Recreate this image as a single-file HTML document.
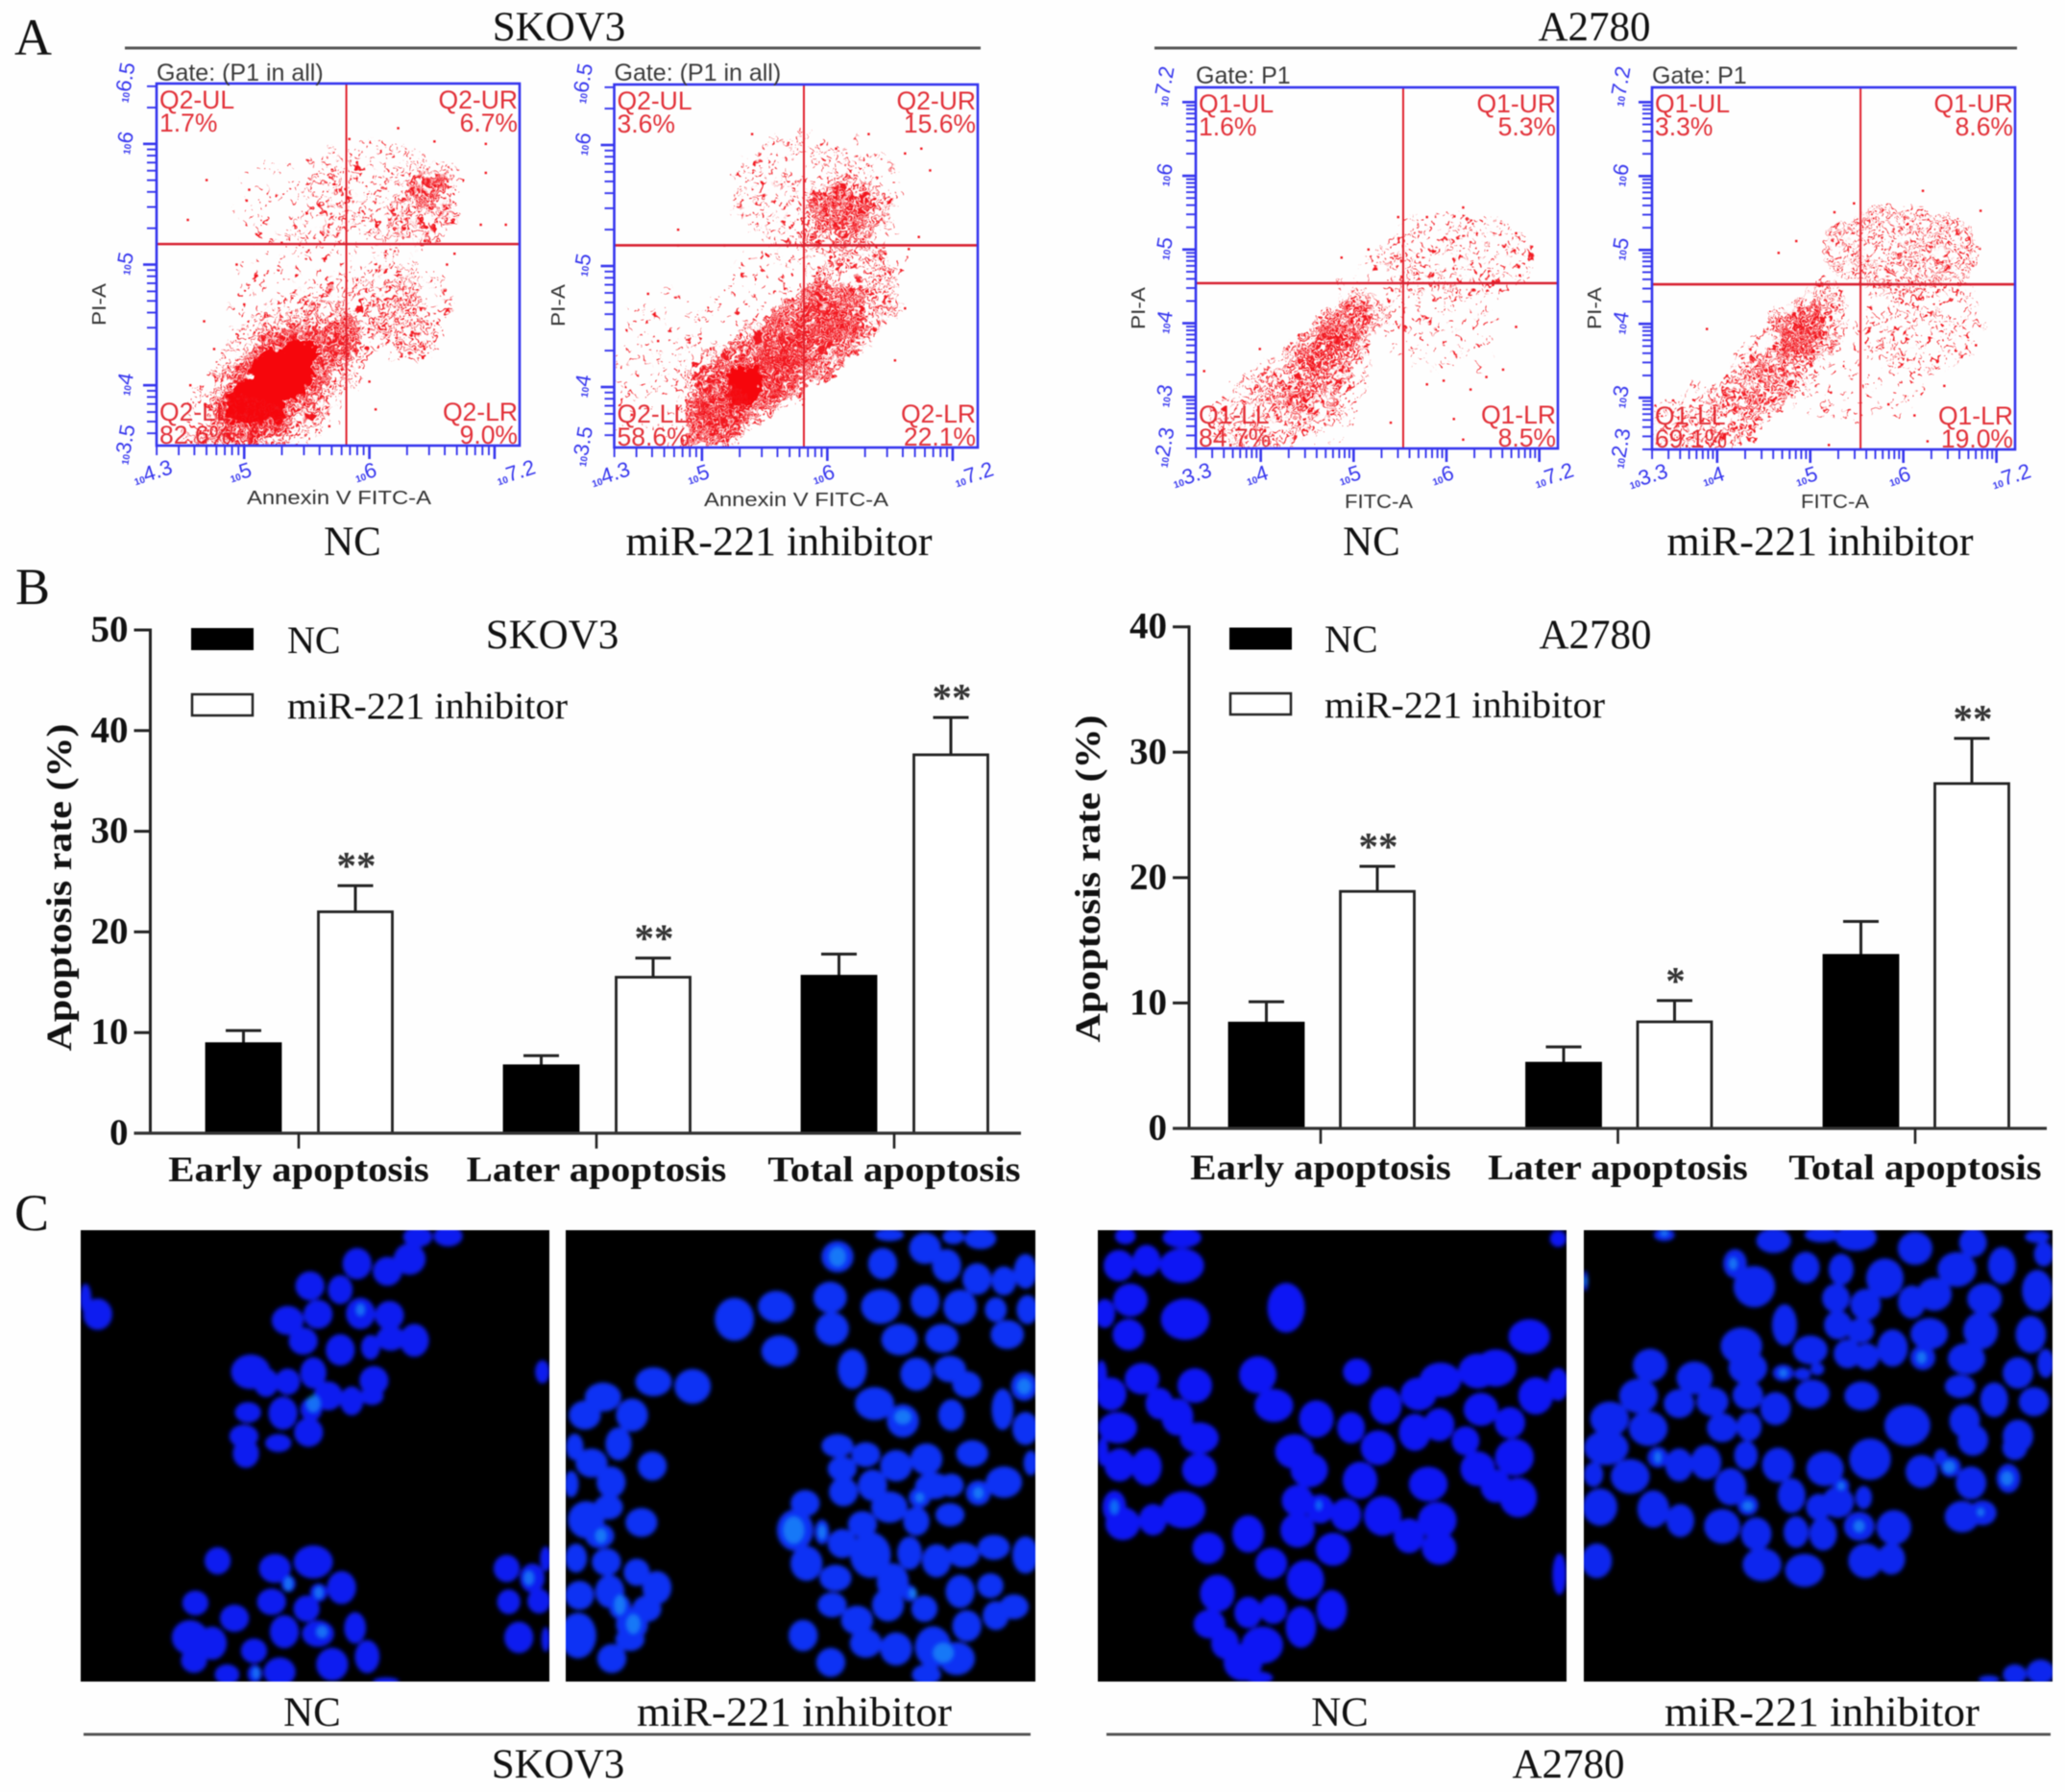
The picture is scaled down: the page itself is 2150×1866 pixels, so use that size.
<!DOCTYPE html>
<html lang="en">
<head>
<meta charset="utf-8">
<title>Apoptosis in SKOV3 and A2780 cells</title>
<style>
html,body{margin:0;padding:0;background:#fefefe;}
svg{display:block;}
text{font-family:"Liberation Serif",serif;fill:#111;}
.sans{font-family:"Liberation Sans",sans-serif;}
.gate{font-size:25px;fill:#3a3a3a;}
.axt{font-size:20px;fill:#333;}
.head{font-size:43px;}
.panel{font-size:54px;}
</style>
</head>
<body>
<svg id="figure" xmlns="http://www.w3.org/2000/svg" width="2150" height="1866" viewBox="0 0 2150 1866">
<defs id="defs">
<filter id="jitter" x="-8%" y="-8%" width="116%" height="116%" color-interpolation-filters="sRGB">
<feTurbulence type="fractalNoise" baseFrequency=".035" numOctaves="2" seed="7" result="slow"/>
<feDisplacementMap in="SourceGraphic" in2="slow" scale="34" xChannelSelector="R" yChannelSelector="G" result="wobbled"/>
<feTurbulence type="fractalNoise" baseFrequency=".2" numOctaves="1" seed="23" result="fast"/>
<feDisplacementMap in="wobbled" in2="fast" scale="16" xChannelSelector="G" yChannelSelector="R"/>
</filter>
</defs>
<rect width="2150" height="1866" fill="#fefefe"/>
<g id="root" style="filter:blur(.55px)">
<text class="panel" x="15" y="57">A</text>
<text class="panel" x="16" y="629">B</text>
<text class="panel" x="15" y="1281">C</text>

<text class="head" x="582" y="42" text-anchor="middle">SKOV3</text>
<line x1="130" x2="1021" y1="50" y2="50" stroke="#555" stroke-width="3"/>
<text class="head" x="1660" y="42" text-anchor="middle">A2780</text>
<line x1="1202" x2="2100" y1="50" y2="50" stroke="#555" stroke-width="3"/>

<g id="flow"></g>

<text class="head" x="367" y="578" text-anchor="middle">NC</text>
<text class="head" x="811" y="578" text-anchor="middle" textLength="319" lengthAdjust="spacingAndGlyphs">miR-221 inhibitor</text>
<text class="head" x="1428" y="578" text-anchor="middle">NC</text>
<text class="head" x="1895" y="578" text-anchor="middle" textLength="319" lengthAdjust="spacingAndGlyphs">miR-221 inhibitor</text>

<g id="bars"></g>

<rect x="199" y="654" width="65" height="23" fill="#000"/>
<rect x="200" y="723" width="63" height="22" fill="#fff" stroke="#222" stroke-width="2.5"/>
<text x="299" y="680" font-size="40">NC</text>
<text x="299" y="748" font-size="39" textLength="292" lengthAdjust="spacingAndGlyphs">miR-221 inhibitor</text>
<text x="575" y="675" font-size="43" text-anchor="middle">SKOV3</text>
<text transform="translate(74,924) rotate(-90)" font-size="37" font-weight="bold" text-anchor="middle" textLength="341" lengthAdjust="spacingAndGlyphs">Apoptosis rate (%)</text>

<rect x="1280" y="653.5" width="65" height="23" fill="#000"/>
<rect x="1281" y="722" width="63" height="22" fill="#fff" stroke="#222" stroke-width="2.5"/>
<text x="1379" y="679" font-size="40">NC</text>
<text x="1379" y="747" font-size="39" textLength="292" lengthAdjust="spacingAndGlyphs">miR-221 inhibitor</text>
<text x="1661" y="675" font-size="43" text-anchor="middle">A2780</text>
<text transform="translate(1145,915) rotate(-90)" font-size="37" font-weight="bold" text-anchor="middle" textLength="341" lengthAdjust="spacingAndGlyphs">Apoptosis rate (%)</text>

<g id="micro"></g>

<text class="head" x="325" y="1797" text-anchor="middle">NC</text>
<text class="head" x="827" y="1797" text-anchor="middle" textLength="328" lengthAdjust="spacingAndGlyphs">miR-221 inhibitor</text>
<line x1="87" x2="1073" y1="1806" y2="1806" stroke="#555" stroke-width="3"/>
<text class="head" x="581" y="1851" text-anchor="middle">SKOV3</text>
<text class="head" x="1395" y="1797" text-anchor="middle">NC</text>
<text class="head" x="1897" y="1797" text-anchor="middle" textLength="328" lengthAdjust="spacingAndGlyphs">miR-221 inhibitor</text>
<line x1="1152" x2="2135" y1="1806" y2="1806" stroke="#555" stroke-width="3"/>
<text class="head" x="1633" y="1851" text-anchor="middle">A2780</text>
</g>
</svg>
<script>
/* ---------- bar chart data ---------- */
const apoptosisCategories = ['Early apoptosis','Later apoptosis','Total apoptosis'];
const skov3NcRates = [8.9, 6.7, 15.6];
const skov3InhibitorRates = [22.0, 15.5, 37.6];
const skov3NcErrorTops = [10.2, 7.7, 17.8];
const skov3InhibitorErrorTops = [24.6, 17.4, 41.3];
const skov3Significance = ['**','**','**'];
const skov3YTicks = [0,10,20,30,40,50];
const a2780NcRates = [8.4, 5.2, 13.8];
const a2780InhibitorRates = [18.9, 8.5, 27.5];
const a2780NcErrorTops = [10.1, 6.5, 16.5];
const a2780InhibitorErrorTops = [20.9, 10.2, 31.1];
const a2780Significance = ['**','*','**'];
const a2780YTicks = [0,10,20,30,40];

/* ---------- flow cytometry data (log10 units) ---------- */
const skov3NcGate = [5.816, 5.17];
const skov3NcRegionX = [5.60,5.41,6.15,6.42,6.45,6.25,6.25,5.30,5.30,5.28,5.26,5.82,4.95];
const skov3NcRegionY = [4.75,5.52,5.60,5.46,5.55,4.66,4.60,4.05,4.05,4.03,4.03,4.45,3.68];
const skov3NcRegionSpreadX = [.85,.50,.60,.28,.14,.40,.22,.98,.80,.62,.50,.12,.40];
const skov3NcRegionSpreadY = [.65,.38,.42,.24,.12,.46,.28,.55,.42,.32,.22,.20,.24];
const skov3NcRegionTilt = [-45,0,0,-30,0,-20,-20,-45,-45,-45,-45,0,-20];
const skov3NcRegionDensity = [0,0,1,2,3,1,2,1,2,3,4,3,2];
const skov3NcOutlierX = [6.23,5.84,6.52,6.93,4.70,4.55,7.09,6.89,6.93,5.04,5.02,4.68,4.76,4.94,5.00,6.68,6.62,6.05,5.68,4.57,6.44,6.00,5.30];
const skov3NcOutlierY = [6.13,6.04,6.02,6.00,5.70,5.37,5.33,5.33,5.76,5.62,5.53,4.53,4.30,5.00,4.67,5.09,5.00,3.80,3.66,4.00,4.30,4.03,5.18];
const skov3NcXTicks = [4.3,5,6,7.2];
const skov3NcYTicks = [3.5,4,5,6,6.5];
const skov3NcPercents = ['1.7%','6.7%','82.6%','9.0%'];

const skov3InhGate = [5.813, 5.171];
const skov3InhRegionX = [5.70,4.70,5.90,6.15,6.10,6.22,5.86,5.33,5.33,5.86,5.30,5.10,6.10];
const skov3InhRegionY = [4.60,4.16,5.60,5.41,5.45,4.81,4.41,4.04,4.04,4.40,4.00,3.75,4.55];
const skov3InhRegionSpreadX = [1.15,.42,.68,.36,.24,.36,.56,.66,.48,.34,.22,.30,.34];
const skov3InhRegionSpreadY = [.62,.65,.48,.32,.20,.42,.36,.36,.30,.20,.12,.22,.30];
const skov3InhRegionTilt = [-45,0,0,-20,0,-15,-45,-50,-50,-45,-50,-40,-30];
const skov3InhRegionDensity = [0,0,1,2,3,2,3,2,3,3,4,3,1];
const skov3InhOutlierX = [5.40,6.33,6.75,6.82,6.62,6.07,4.81,6.73,6.54,4.57,4.44,4.65,6.65,6.62,5.18,4.81];
const skov3InhOutlierY = [6.09,6.09,5.97,5.79,5.93,5.97,5.30,5.24,4.22,4.77,3.77,4.38,5.14,4.65,5.17,5.17];
const skov3InhXTicks = [4.3,5,6,7.2];
const skov3InhYTicks = [3.5,4,5,6,6.5];
const skov3InhPercents = ['3.6%','15.6%','58.6%','22.1%'];

const a2780NcGate = [5.534, 4.543];
const a2780NcRegionX = [6.08,5.94,5.50,4.30,4.17,4.55,4.60,4.87,4.85,4.50];
const a2780NcRegionY = [4.90,3.90,4.30,3.00,2.90,3.35,3.30,3.85,3.90,2.75];
const a2780NcRegionSpreadX = [.85,.65,.65,1.00,.80,.62,.36,.60,.36,.55];
const a2780NcRegionSpreadY = [.60,.55,.65,.60,.50,.46,.30,.40,.24,.45];
const a2780NcRegionTilt = [0,0,0,-25,-25,-45,-45,-45,-50,0];
const a2780NcRegionDensity = [1,0,0,1,1,2,2,2,3,0];
const a2780NcOutlierX = [6.18,5.48,5.79,6.79,6.75,6.61,6.08,6.26,6.18,5.97,6.75,5.79,6.43,5.40,3.39,3.99,4.87,5.16];
const a2780NcOutlierY = [5.57,5.44,5.44,4.65,5.22,3.37,2.70,3.10,2.42,3.22,3.95,3.17,3.27,2.65,3.35,3.65,4.89,5.00];
const a2780NcXTicks = [3.3,4,5,6,7.2];
const a2780NcYTicks = [2.3,3,4,5,6,7.2];
const a2780NcPercents = ['1.6%','5.3%','84.7%','8.5%'];

const a2780InhGate = [5.54, 4.535];
const a2780InhRegionX = [5.98,6.19,6.30,5.50,3.86,4.20,4.57,4.57,4.92,4.90];
const a2780InhRegionY = [5.01,4.01,4.10,3.30,2.66,2.90,3.30,3.30,3.92,3.90];
const a2780InhRegionSpreadX = [.82,.66,.40,.80,.72,.75,.85,.60,.62,.36];
const a2780InhRegionSpreadY = [.62,.68,.38,.65,.50,.46,.52,.36,.44,.26];
const a2780InhRegionTilt = [0,0,0,0,-10,-30,-45,-45,-50,-50];
const a2780InhRegionDensity = [2,1,1,0,1,1,1,2,2,3];
const a2780InhOutlierX = [6.21,6.83,5.47,5.26,4.85,4.66,3.89,6.78,6.26,6.44,5.84,6.12,5.20];
const a2780InhOutlierY = [5.80,5.53,5.63,5.51,5.12,4.96,3.93,3.71,2.41,3.16,2.91,2.76,2.36];
const a2780InhXTicks = [3.3,4,5,6,7.2];
const a2780InhYTicks = [2.3,3,4,5,6,7.2];
const a2780InhPercents = ['3.3%','8.6%','69.1%','19.0%'];

const NS = 'http://www.w3.org/2000/svg';
function add(parent, tag, attrs, txt){
  const el = document.createElementNS(NS, tag);
  for (const k in attrs) el.setAttribute(k, attrs[k]);
  if (txt !== undefined) el.textContent = txt;
  parent.appendChild(el);
  return el;
}
const defs = document.getElementById('defs');

/* stipple patterns that give the dot-cloud texture */
const stippleOffsets = [[.07,.13],[.31,.05],[.58,.19],[.86,.09],[.19,.41],[.47,.36],[.74,.47],[.95,.33],[.03,.68],[.36,.72],[.63,.63],[.84,.81],[.22,.93],[.52,.88]];
[[44,40],[30,28],[20,18],[12,11]].forEach((tile,i)=>{
  const p = add(defs,'pattern',{id:'stip'+i,patternUnits:'userSpaceOnUse',width:tile[0],height:tile[1],patternTransform:'rotate('+(17+i*11)+')'});
  stippleOffsets.forEach(o=>add(p,'rect',{x:o[0]*tile[0],y:o[1]*tile[1],width:2.3,height:2.3,fill:'#f2141c'}));
});
const softBlur = add(defs,'filter',{id:'soft',x:'-5%',y:'-5%',width:'110%',height:'110%'});
add(softBlur,'feGaussianBlur',{stdDeviation:'2'});

/* ---------- flow panels ---------- */
const BLUE = '#3535ee', RED = '#e23038';
function flowPanel(c){
  const host = document.getElementById('flow');
  const g = add(host,'g',{});
  
  
  const sx = v => c.left + (v - c.xMin) * (c.right - c.left) / (c.xMax - c.xMin);
  const sy = v => c.bottom - (v - c.yMin) * (c.bottom - c.top) / (c.yMax - c.yMin);
  const w = c.right - c.left, h = c.bottom - c.top;

  const clip = add(defs,'clipPath',{id:'clip-'+c.name});
  add(clip,'rect',{x:c.left,y:c.top,width:w,height:h});

  /* labels beneath the dots */
  const tags = ['-UL','-UR','-LL','-LR'];
  tags.forEach((t,i)=>{
    const isRight = i % 2 === 1, isTop = i < 2;
    const tx = isRight ? c.right - 2 : c.left + 3;
    const y1 = isTop ? c.top + 26 : c.bottom - 26;
    const q = add(g,'text',{x:tx,y:y1,'text-anchor':isRight?'end':'start',class:'sans','font-size':26.5,style:'fill:'+RED},c.quad+t);
    
    
    const pct = add(g,'text',{x:tx,y:y1+24,'text-anchor':isRight?'end':'start',class:'sans','font-size':26.5,style:'fill:'+RED},c.percents[i]);
    
    
  });

  /* density regions and outliers */
  const cloud = add(g,'g',{'clip-path':'url(#clip-'+c.name+')'});
  const cloudInner = add(cloud,'g',{filter:'url(#jitter)'});
  c.regionX.forEach((v,i)=>{
    const cx = sx(v), cy = sy(c.regionY[i]);
    const rx = c.regionSpreadX[i] * w / (c.xMax - c.xMin);
    const ry = c.regionSpreadY[i] * h / (c.yMax - c.yMin);
    const d = c.regionDensity[i];
    const e = add(cloudInner,'ellipse',{cx:cx,cy:cy,rx:rx,ry:ry,transform:'rotate('+c.regionTilt[i]+' '+cx+' '+cy+')',fill:d===4?'#f6060c':'url(#stip'+d+')'});
    
    
  });
  c.outlierX.forEach((v,i)=>{
    const pt = add(cloud,'rect',{x:sx(v)-1.2,y:sy(c.outlierY[i])-1.2,width:2.4,height:2.4,fill:'#f2141c'});
    
    
  });

  /* quadrant gates */
  const gv = add(g,'line',{x1:sx(c.gate[0]),x2:sx(c.gate[0]),y1:c.top,y2:c.bottom,stroke:'#e0202c','stroke-width':2});
  
  
  const gh = add(g,'line',{x1:c.left,x2:c.right,y1:sy(c.gate[1]),y2:sy(c.gate[1]),stroke:'#d82030','stroke-width':2.6});
  
  

  /* frame */
  const fr = add(g,'rect',{x:c.left,y:c.top,width:w,height:h,fill:'none',stroke:BLUE,'stroke-width':2.6});
  
  

  /* log ticks */
  for (let d = Math.ceil(c.xMin) - 1; d <= c.xMax; d++) for (let m = 1; m < 10; m++){
    const v = d + Math.log10(m);
    if (v < c.xMin || v > c.xMax) continue;
    const t = add(g,'line',{x1:sx(v),x2:sx(v),y1:c.bottom,y2:c.bottom+(m===1?14:10),stroke:BLUE,'stroke-width':m===1?2.6:1.9});
    
    
  }
  for (let d = Math.ceil(c.yMin) - 1; d <= c.yMax; d++) for (let m = 1; m < 10; m++){
    const v = d + Math.log10(m);
    if (v < c.yMin || v > c.yMax) continue;
    const t = add(g,'line',{x1:c.left-(m===1?14:10),x2:c.left,y1:sy(v),y2:sy(v),stroke:BLUE,'stroke-width':m===1?2.6:1.9});
    
    
  }

  /* tick labels */
  c.xTicks.forEach(v=>{
    const t = add(g,'text',{transform:'translate('+(sx(v)-2)+','+(c.bottom+35)+') rotate(-18)','text-anchor':'middle',class:'sans',style:'fill:'+BLUE});
    
    
    add(t,'tspan',{'font-size':10,'font-weight':'bold',style:'fill:'+BLUE},'10');
    add(t,'tspan',{'font-size':22,style:'fill:'+BLUE},String(v));
  });
  c.yTicks.forEach(v=>{
    const t = add(g,'text',{transform:'translate('+(c.left-26)+','+sy(v)+') rotate(-80)','text-anchor':'middle',class:'sans',style:'fill:'+BLUE});
    
    
    add(t,'tspan',{'font-size':10,'font-weight':'bold',style:'fill:'+BLUE},'10');
    add(t,'tspan',{'font-size':22,style:'fill:'+BLUE},String(v));
  });

  /* titles */
  const gt = add(g,'text',{x:c.gateX,y:c.gateY,class:'sans gate'},c.gateText);
  
  
  const xt = add(g,'text',{x:c.xTitleX,y:c.xTitleY,class:'sans axt','text-anchor':'middle',textLength:c.xTitleW,lengthAdjust:'spacingAndGlyphs'},c.xTitle);
  
  
  const yt = add(g,'text',{transform:'translate('+c.yTitleX+','+c.yTitleY+') rotate(-90)',class:'sans axt','text-anchor':'middle',textLength:44,lengthAdjust:'spacingAndGlyphs'},'PI-A');
  
  
}

flowPanel({name:'flow-skov3-nc',left:163,right:541,top:87,bottom:464,xMin:4.3,xMax:7.2,yMin:3.5,yMax:6.5,quad:'Q2',percents:skov3NcPercents,gate:skov3NcGate,regionX:skov3NcRegionX,regionY:skov3NcRegionY,regionSpreadX:skov3NcRegionSpreadX,regionSpreadY:skov3NcRegionSpreadY,regionTilt:skov3NcRegionTilt,regionDensity:skov3NcRegionDensity,outlierX:skov3NcOutlierX,outlierY:skov3NcOutlierY,xTicks:skov3NcXTicks,yTicks:skov3NcYTicks,gateX:163,gateY:84,gateText:'Gate: (P1 in all)',xTitle:'Annexin V FITC-A',xTitleX:353,xTitleY:525,xTitleW:192,yTitleX:110,yTitleY:317});
flowPanel({name:'flow-skov3-inhibitor',left:639.5,right:1018,top:88,bottom:466,xMin:4.3,xMax:7.2,yMin:3.5,yMax:6.5,quad:'Q2',percents:skov3InhPercents,gate:skov3InhGate,regionX:skov3InhRegionX,regionY:skov3InhRegionY,regionSpreadX:skov3InhRegionSpreadX,regionSpreadY:skov3InhRegionSpreadY,regionTilt:skov3InhRegionTilt,regionDensity:skov3InhRegionDensity,outlierX:skov3InhOutlierX,outlierY:skov3InhOutlierY,xTicks:skov3InhXTicks,yTicks:skov3InhYTicks,gateX:639.5,gateY:84,gateText:'Gate: (P1 in all)',xTitle:'Annexin V FITC-A',xTitleX:829,xTitleY:527,xTitleW:192,yTitleX:588,yTitleY:318});
flowPanel({name:'flow-a2780-nc',left:1245,right:1622,top:91,bottom:467,xMin:3.3,xMax:7.2,yMin:2.3,yMax:7.2,quad:'Q1',percents:a2780NcPercents,gate:a2780NcGate,regionX:a2780NcRegionX,regionY:a2780NcRegionY,regionSpreadX:a2780NcRegionSpreadX,regionSpreadY:a2780NcRegionSpreadY,regionTilt:a2780NcRegionTilt,regionDensity:a2780NcRegionDensity,outlierX:a2780NcOutlierX,outlierY:a2780NcOutlierY,xTicks:a2780NcXTicks,yTicks:a2780NcYTicks,gateX:1245,gateY:87,gateText:'Gate: P1',xTitle:'FITC-A',xTitleX:1435.5,xTitleY:529,xTitleW:71,yTitleX:1192,yTitleY:321});
flowPanel({name:'flow-a2780-inhibitor',left:1720,right:2098,top:91,bottom:468,xMin:3.3,xMax:7.2,yMin:2.3,yMax:7.2,quad:'Q1',percents:a2780InhPercents,gate:a2780InhGate,regionX:a2780InhRegionX,regionY:a2780InhRegionY,regionSpreadX:a2780InhRegionSpreadX,regionSpreadY:a2780InhRegionSpreadY,regionTilt:a2780InhRegionTilt,regionDensity:a2780InhRegionDensity,outlierX:a2780InhOutlierX,outlierY:a2780InhOutlierY,xTicks:a2780InhXTicks,yTicks:a2780InhYTicks,gateX:1720,gateY:87,gateText:'Gate: P1',xTitle:'FITC-A',xTitleX:1910.5,xTitleY:529,xTitleW:71,yTitleX:1667,yTitleY:321});

/* ---------- bar charts ---------- */
function barChart(c){
  const host = document.getElementById('bars');
  const g = add(host,'g',{});
  
  
  const sy = v => c.y0 - v * (c.y0 - c.yTop) / c.yMax;
  const groupX = i => c.firstTick + i * c.step;

  const yAxis = add(g,'line',{x1:c.axisX,x2:c.axisX,y1:c.yTop-1.5,y2:c.y0,stroke:'#222','stroke-width':3});
  
  
  c.yTicks.forEach(v=>{
    const t = add(g,'line',{x1:c.axisX-17,x2:c.axisX,y1:sy(v),y2:sy(v),stroke:'#222','stroke-width':3});
    
    
    const l = add(g,'text',{x:c.axisX-23,y:sy(v)+12,'text-anchor':'end','font-size':39,'font-weight':'bold'},String(v));
    
    
  });

  function series(values, errs, offset, isFilled, seriesName){
    values.forEach((v,i)=>{
      const cx = groupX(i) + offset;
      const er = add(g,'path',{d:'M'+cx+' '+sy(v)+'V'+sy(errs[i])+'M'+(cx-18.5)+' '+sy(errs[i])+'H'+(cx+18.5),fill:'none',stroke:'#222','stroke-width':3});
      
      
      const b = add(g,'rect',{x:cx-38.5,y:sy(v),width:77,height:c.y0-sy(v),fill:isFilled?'#000':'#fff',stroke:isFilled?'#000':'#222','stroke-width':2.8});
      
      
    });
  }
  series(c.nc, c.ncErr, c.ncOffset, true, 'bar-nc');
  series(c.inh, c.inhErr, c.inhOffset, false, 'bar-inhibitor');

  c.inh.forEach((v,i)=>{
    const s = add(g,'text',{x:groupX(i)+c.inhOffset+1,y:sy(c.inhErr[i])-7,'text-anchor':'middle','font-size':41,'font-weight':'bold',style:'fill:#333'},c.sig[i]);
    
    
  });

  const xAxis = add(g,'line',{x1:c.axisX-17,x2:c.axisEnd,y1:c.y0,y2:c.y0,stroke:'#333','stroke-width':3.2});
  
  
  c.categories.forEach((cat,i)=>{
    const t = add(g,'line',{x1:groupX(i),x2:groupX(i),y1:c.y0,y2:c.y0+16,stroke:'#222','stroke-width':2.6});
    
    
    const l = add(g,'text',{x:groupX(i),y:c.y0+c.labelDrop,'text-anchor':'middle','font-size':37,'font-weight':'bold'},cat);
    
    
    l.setAttribute('textLength', l.getComputedTextLength()*1.105);
    l.setAttribute('lengthAdjust', 'spacingAndGlyphs');
  });
}
barChart({name:'bar-chart-skov3',labelDrop:50,axisX:156.5,axisEnd:1063,y0:1180,yTop:656,yMax:50,firstTick:311,step:310,ncOffset:-57.5,inhOffset:59,categories:apoptosisCategories,nc:skov3NcRates,inh:skov3InhibitorRates,ncErr:skov3NcErrorTops,inhErr:skov3InhibitorErrorTops,sig:skov3Significance,yTicks:skov3YTicks});
barChart({name:'bar-chart-a2780',labelDrop:53,axisX:1238,axisEnd:2131,y0:1175,yTop:652.7,yMax:40,firstTick:1375,step:309.5,ncOffset:-56.5,inhOffset:59,categories:apoptosisCategories,nc:a2780NcRates,inh:a2780InhibitorRates,ncErr:a2780NcErrorTops,inhErr:a2780InhibitorErrorTops,sig:a2780Significance,yTicks:a2780YTicks});

/* ---------- fluorescence micrographs (illustration, image coordinates) ---------- */
const micrographSkov3Nc = [[620,120,20,25],[665,118,20,25],[530,190,20,38],[575,210,20,35],[608,178,22,38],[460,248,20,35],[505,258,17,35],[127,280,8,35],[145,322,20,38],[427,338,22,35],[472,322,20,35],[535,320,20,38],[578,325,20,35],[450,392,20,33],[505,415,20,38],[550,408,13,30],[580,385,20,30],[615,390,20,40],[372,472,27,42],[395,500,17,35],[427,498,17,32],[465,475,18,38],[555,495,20,35],[487,535,20,35],[522,548,16,35],[552,535,16,22],[368,578,18,25],[420,580,20,40],[462,570,15,28],[458,630,20,35],[362,640,20,28],[413,658,18,22],[365,685,18,35],[805,472,10,28],[323,965,18,33],[408,985,22,35],[465,968,27,40],[507,1035,20,40],[428,1025,10,20],[473,1048,12,22],[290,1075,18,30],[403,1072,20,32],[455,1090,18,32],[348,1115,20,33],[527,1140,15,38],[422,1150,20,40],[472,1155,22,32],[282,1165,25,42],[315,1180,20,40],[377,1200,18,30],[545,1215,17,40],[493,1235,22,40],[288,1225,18,30],[337,1262,17,25],[415,1255,22,35],[378,1260,10,22],[573,1280,18,10],[752,985,18,33],[790,1010,17,35],[755,1072,16,30],[800,1070,16,30],[770,1165,20,38],[810,960,8,30],[810,1170,6,30]];
const micrographSkov3Inh = [[1243,172,22,38],[1320,115,20,15],[1373,150,22,38],[1405,195,20,40],[1310,190,20,38],[1450,230,20,38],[1490,235,17,35],[1522,210,16,42],[1415,120,15,18],[1455,125,22,25],[1232,278,23,38],[1307,302,27,42],[1373,288,20,40],[1425,303,23,42],[1478,310,15,30],[1525,310,15,35],[1090,335,27,52],[1152,302,25,38],[1235,360,23,40],[1157,418,25,38],[1335,388,25,38],[1398,385,23,35],[1495,375,23,35],[1265,465,20,48],[1360,478,22,40],[1410,465,22,32],[1435,505,20,32],[1520,510,18,35],[970,498,25,35],[1028,510,25,42],[1298,555,27,40],[1340,600,22,40],[1412,585,18,38],[1488,570,15,50],[1522,620,18,40],[895,538,25,35],[868,585,22,35],[938,585,22,40],[918,660,18,40],[853,668,12,32],[878,710,22,35],[968,718,20,35],[1243,665,22,28],[1285,688,20,30],[1250,725,20,30],[1330,717,22,38],[1375,700,22,38],[1443,685,22,32],[1530,710,10,30],[907,760,20,38],[848,765,10,32],[1252,785,20,35],[1295,768,20,38],[1385,770,25,32],[1412,768,17,28],[1490,760,25,38],[1452,788,17,30],[1365,800,15,25],[1195,815,20,32],[903,825,20,30],[1410,845,20,28],[1320,825,25,38],[1360,862,18,35],[952,865,22,35],[870,858,25,45],[890,900,20,30],[1280,870,20,32],[1180,885,25,50],[1220,890,10,30],[1250,920,20,35],[1292,950,28,55],[1350,945,17,40],[1197,972,22,42],[1390,965,20,40],[1430,950,22,30],[1475,930,22,30],[1522,950,18,45],[855,958,15,35],[900,968,20,33],[945,995,18,33],[1240,1010,22,32],[1325,1020,22,45],[1425,1045,20,40],[1470,1030,18,30],[860,1055,20,35],[905,1045,20,40],[975,1035,20,40],[1235,1080,20,30],[1318,1080,22,40],[1372,1090,18,32],[1505,1085,20,30],[1350,1050,10,20],[920,1085,15,30],[960,1090,20,32],[1478,1108,18,35],[1272,1120,22,35],[938,1130,22,40],[1435,1135,20,38],[1192,1160,20,38],[858,1160,25,55],[935,1170,20,28],[1285,1180,22,35],[1330,1195,22,40],[1385,1190,25,50],[1420,1220,25,40],[908,1220,20,35],[1233,1230,20,35],[1375,1262,20,25]];
const micrographA2780Nc = [[107,118,15,20],[195,122,28,25],[97,195,22,38],[140,182,20,38],[195,195,32,42],[115,285,25,40],[75,320,15,35],[200,335,35,50],[112,375,23,38],[357,305,27,60],[735,380,30,42],[780,125,12,20],[70,480,8,35],[133,490,25,38],[215,508,25,42],[313,480,27,45],[85,530,22,40],[160,555,20,38],[188,590,23,45],[338,560,28,40],[404,595,25,45],[467,472,20,32],[512,560,23,45],[563,530,26,40],[597,493,30,42],[655,470,28,42],[683,462,30,45],[745,535,25,45],[780,505,15,40],[95,618,28,38],[222,645,28,38],[458,618,20,38],[660,570,25,40],[705,605,22,38],[595,610,22,40],[557,630,23,45],[636,652,20,35],[370,680,28,42],[393,728,27,42],[500,670,25,42],[712,695,28,45],[72,680,8,35],[98,715,22,40],[140,720,22,45],[222,728,25,40],[655,725,25,42],[472,755,25,45],[578,765,28,42],[683,770,22,40],[718,800,27,48],[375,808,23,38],[410,830,20,35],[450,845,22,40],[197,832,32,45],[90,825,17,40],[103,868,25,40],[150,858,20,38],[507,848,27,48],[592,860,28,45],[375,885,25,42],[548,900,22,42],[595,932,25,40],[298,895,23,45],[236,932,23,38],[430,935,25,40],[334,972,23,38],[387,1015,27,48],[250,1050,25,45],[782,1000,10,50],[428,1093,22,48],[298,1100,20,38],[337,1092,20,35],[380,1138,22,50],[238,1130,23,35],[262,1180,20,38],[320,1185,30,45],[290,1230,28,45],[315,1270,20,15]];
const micrographA2780Inh = [[945,115,15,15],[1115,130,25,30],[1190,115,25,18],[1243,122,30,32],[1335,150,25,40],[1425,135,20,35],[1525,120,18,15],[1535,165,14,30],[1055,190,17,35],[1165,200,20,38],[1220,205,18,38],[1288,228,27,48],[1400,205,28,42],[1470,195,20,45],[1085,250,30,50],[822,235,4,25],[1212,280,20,35],[1258,297,22,38],[1330,290,20,40],[1365,270,25,40],[1443,282,25,38],[1525,260,22,50],[1215,350,20,35],[1250,365,20,30],[1132,350,18,50],[1357,373,27,38],[1437,365,25,45],[1515,375,22,45],[1065,405,30,45],[1172,415,25,35],[1230,425,20,35],[1260,432,18,32],[1300,410,22,45],[1347,435,18,30],[1415,438,27,38],[1538,450,12,35],[923,455,25,40],[1075,462,28,40],[1130,475,15,20],[1160,478,12,15],[1183,465,10,15],[992,488,26,40],[1495,475,22,38],[1405,510,22,28],[905,535,28,42],[1075,533,22,35],[1175,530,25,35],[1252,535,25,35],[1458,545,20,42],[1520,550,22,35],[968,555,22,35],[1020,550,23,35],[1118,568,22,40],[860,595,28,42],[920,620,28,42],[1323,612,33,50],[1412,600,22,40],[1035,618,22,35],[1077,615,18,35],[1425,650,22,38],[1495,640,22,40],[855,670,32,42],[1072,690,17,35],[1490,670,18,30],[935,695,15,25],[968,715,20,40],[1010,708,22,42],[1122,715,23,42],[1195,725,27,42],[1265,700,30,50],[1375,695,10,20],[1345,732,23,40],[1390,720,15,25],[1422,762,22,40],[835,740,14,30],[892,745,28,42],[1480,750,17,35],[1048,772,23,45],[1075,820,15,25],[1143,795,20,42],[1185,825,18,32],[1220,770,12,20],[1215,812,23,38],[1255,800,12,28],[845,825,25,45],[928,830,23,45],[970,860,20,40],[1035,875,26,42],[1088,895,22,40],[1150,890,18,38],[1192,895,20,40],[1248,875,22,35],[1302,878,25,42],[1408,850,25,38],[1440,840,20,30],[840,965,22,42],[1097,975,28,40],[1163,990,28,40],[1258,965,25,42],[1298,960,20,38],[1450,1275,15,10],[1490,1262,17,25],[1530,1255,20,30]];
const glowSkov3Nc = [[465,555,10,22],[428,1025,6,18],[473,1048,6,15],[478,1150,8,15],[380,1258,5,15],[785,1010,7,18],[535,310,6,15]];
const glowSkov3Inh = [[1243,172,12,25],[1340,590,12,18],[1178,885,15,35],[1220,890,5,18],[892,900,8,18],[920,1080,8,25],[940,1130,10,25],[1452,788,7,15],[1365,800,6,12],[1520,510,10,20],[1355,1050,6,12],[1400,1205,15,25]];
const glowA2780Nc = [[90,825,6,18],[408,820,4,12]];
const glowA2780Inh = [[1075,822,8,12],[935,695,5,15],[1478,750,9,18],[1345,435,7,15],[1388,720,9,15],[1248,875,8,15],[1130,475,6,10],[1052,190,6,15],[945,110,6,8],[1437,838,5,10],[1220,770,5,10],[822,235,3,12]];

function micrograph(name, box, tf, cells, glows, fill){
  const host = document.getElementById('micro');
  const outer = add(host,'g',{});
  
  
  const bg = add(outer,'rect',{x:box[0],y:1281,width:box[1]-box[0],height:470,fill:'#000'});
  
  
  const cp = add(defs,'clipPath',{id:'clip-'+name});
  add(cp,'rect',{x:box[0],y:1281,width:box[1]-box[0],height:470});
  const clipper = add(outer,'g',{'clip-path':'url(#clip-'+name+')'});
  const blurred = add(clipper,'g',{filter:'url(#soft)'});
  const inner = add(blurred,'g',{transform:tf});
  cells.forEach(n=>{
    const e = add(inner,'ellipse',{cx:n[0],cy:n[1],rx:n[2]*1.08,ry:n[3]*1.08,fill:fill});
    
    
  });
  glows.forEach(n=>{
    const e = add(inner,'ellipse',{cx:n[0],cy:n[1],rx:n[2],ry:n[3],fill:'#18a8f8','fill-opacity':.6});
    
    
  });
}
const tfLeft = 'translate(0,1240) scale(.7015,.3992)';
const tfRight = 'translate(1100,1240) scale(.6696,.3992)';
micrograph('micrograph-skov3-nc',[84,572],tfLeft,micrographSkov3Nc,glowSkov3Nc,'#0a1cf0');
micrograph('micrograph-skov3-inhibitor',[589,1078],tfLeft,micrographSkov3Inh,glowSkov3Inh,'#1030f4');
micrograph('micrograph-a2780-nc',[1143,1631],tfRight,micrographA2780Nc,glowA2780Nc,'#0818f4');
micrograph('micrograph-a2780-inhibitor',[1649,2137],tfRight,micrographA2780Inh,glowA2780Inh,'#0c26ee');
</script>
</body>
</html>
